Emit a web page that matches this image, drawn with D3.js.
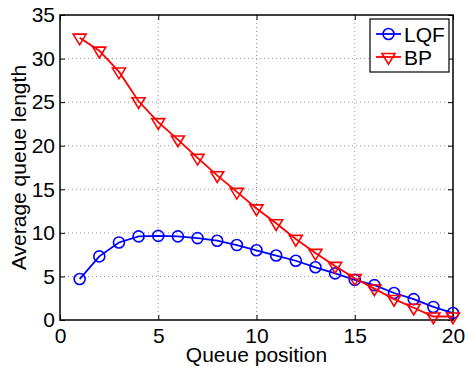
<!DOCTYPE html>
<html>
<head>
<meta charset="utf-8">
<script src="https://cdn.jsdelivr.net/npm/d3@7"></script>
<style>
  body { margin: 0; background: #fff; }
  text { font-family: "Liberation Sans", Arial, sans-serif; fill: #000; }
  .grid line { stroke: #999; stroke-dasharray: 1,3; }
</style>
</head>
<body>
<div id="chart"></div>
<script>
var positions = d3.range(1, 21);
var lqf = [4.7, 7.3, 8.9, 9.6, 9.65, 9.6, 9.4, 9.1, 8.6, 8.0, 7.4, 6.8, 6.05, 5.35, 4.6, 4.0, 3.1, 2.4, 1.5, 0.8];
var bp = [32.4, 30.9, 28.5, 25.1, 22.7, 20.7, 18.6, 16.6, 14.7, 12.8, 11.1, 9.3, 7.7, 6.2, 4.8, 3.6, 2.4, 1.4, 0.4, 0.4];
var xTicks = [0, 5, 10, 15, 20];
var yTicks = [0, 5, 10, 15, 20, 25, 30, 35];
var seriesNames = ["LQF", "BP"];
var seriesColors = ["#0000ff", "#ff0000"];

var width = 465, height = 367;
var mLeft = 60, mRight = 453, mTop = 15, mBottom = 320;

var svg = d3.select("#chart").append("svg")
    .attr("width", width)
    .attr("height", height);

var x = d3.scaleLinear().domain([0, 20]).range([mLeft, mRight]);
var y = d3.scaleLinear().domain([0, 35]).range([mBottom, mTop]);

// grid
var grid = svg.append("g").attr("class", "grid");
grid.selectAll(".gx").data(xTicks.slice(1, -1)).enter().append("line")
    .attr("x1", function(d) { return x(d); }).attr("x2", function(d) { return x(d); })
    .attr("y1", mTop).attr("y2", mBottom);
grid.selectAll(".gy").data(yTicks.slice(1, -1)).enter().append("line")
    .attr("y1", function(d) { return y(d); }).attr("y2", function(d) { return y(d); })
    .attr("x1", mLeft).attr("x2", mRight);

// axes with inward ticks
var xAxis = d3.axisBottom(x).tickValues(xTicks).tickSizeInner(-5).tickSizeOuter(0).tickPadding(8);
var yAxis = d3.axisLeft(y).tickValues(yTicks).tickSizeInner(-5).tickSizeOuter(0).tickPadding(5);

var gx = svg.append("g").attr("transform", "translate(0," + mBottom + ")").call(xAxis);
var gy = svg.append("g").attr("transform", "translate(" + mLeft + ",0)").call(yAxis);
var gxt = svg.append("g").attr("transform", "translate(0," + mTop + ")")
    .call(d3.axisTop(x).tickValues(xTicks).tickSizeInner(-5).tickSizeOuter(0).tickFormat(""));
var gyr = svg.append("g").attr("transform", "translate(" + mRight + ",0)")
    .call(d3.axisRight(y).tickValues(yTicks).tickSizeInner(-5).tickSizeOuter(0).tickFormat(""));

[gx, gy, gxt, gyr].forEach(function(g) {
  g.selectAll("text").style("font-size", "21px").style("font-family", "Liberation Sans, Arial, sans-serif");
  g.selectAll("line").attr("stroke", "#000");
  g.select(".domain").remove();
});

svg.append("rect")
    .attr("x", mLeft).attr("y", mTop)
    .attr("width", mRight - mLeft).attr("height", mBottom - mTop)
    .attr("fill", "none").attr("stroke", "#000").attr("stroke-width", 1.5);

// labels
svg.append("text")
    .attr("x", (mLeft + mRight) / 2).attr("y", 362)
    .attr("text-anchor", "middle")
    .style("font-size", "21px")
    .text("Queue position");

svg.append("text")
    .attr("transform", "translate(26," + (mTop + mBottom) / 2 + ") rotate(-90)")
    .attr("text-anchor", "middle")
    .style("font-size", "21px")
    .text("Average queue length");

var line = d3.line()
    .x(function(d, i) { return x(positions[i]); })
    .y(function(d) { return y(d); });

function triangle(g, cx, cy, color) {
  var s = 6.5;
  g.append("path")
      .attr("d", "M" + (cx - s) + "," + (cy - s * 0.55) + "L" + (cx + s) + "," + (cy - s * 0.55) + "L" + cx + "," + (cy + s * 1.1) + "Z")
      .attr("fill", "none").attr("stroke", color).attr("stroke-width", 1.6);
}

function circle(g, cx, cy, color) {
  g.append("circle")
      .attr("cx", cx).attr("cy", cy).attr("r", 5.5)
      .attr("fill", "none").attr("stroke", color).attr("stroke-width", 1.6);
}

// LQF
svg.append("path").datum(lqf)
    .attr("d", line).attr("fill", "none")
    .attr("stroke", seriesColors[0]).attr("stroke-width", 1.8);
var lqfMarks = svg.append("g");
lqf.forEach(function(d, i) { circle(lqfMarks, x(positions[i]), y(d), seriesColors[0]); });

// BP
svg.append("path").datum(bp)
    .attr("d", line).attr("fill", "none")
    .attr("stroke", seriesColors[1]).attr("stroke-width", 1.8);
var bpMarks = svg.append("g");
bp.forEach(function(d, i) { triangle(bpMarks, x(positions[i]), y(d), seriesColors[1]); });

// legend
var lg = svg.append("g");
lg.append("rect")
    .attr("x", 370).attr("y", 19).attr("width", 79).attr("height", 53)
    .attr("fill", "#fff").attr("stroke", "#000").attr("stroke-width", 1.2);
seriesNames.forEach(function(name, i) {
  var cy = 34 + i * 23;
  lg.append("line")
      .attr("x1", 376).attr("x2", 401).attr("y1", cy).attr("y2", cy)
      .attr("stroke", seriesColors[i]).attr("stroke-width", 1.8);
  if (i === 0) circle(lg, 388.5, cy, seriesColors[i]);
  else triangle(lg, 388.5, cy, seriesColors[i]);
  lg.append("text")
      .attr("x", 404).attr("y", cy + 7.5)
      .style("font-size", "21px")
      .text(name);
});
</script>
</body>
</html>
